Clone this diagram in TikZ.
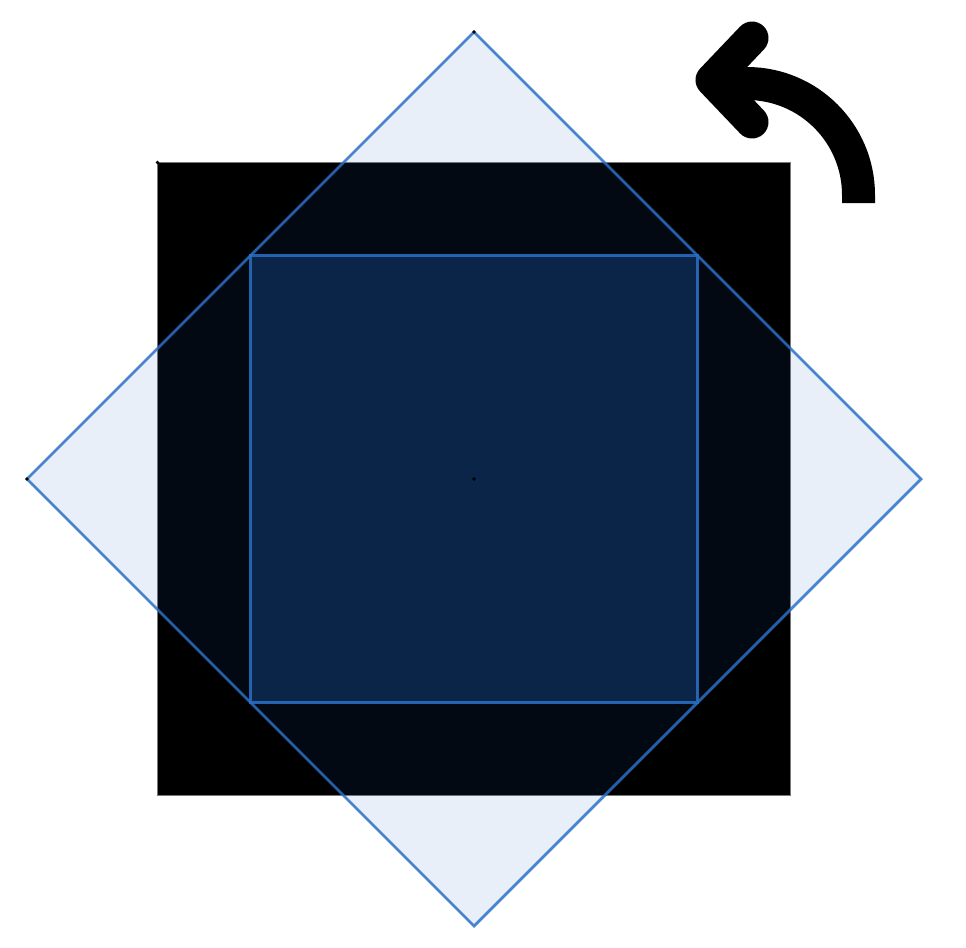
\documentclass[tikz,border=0pt]{standalone}
\usepackage{xcolor}
\usepackage{tikz}
\usetikzlibrary{calc}
\definecolor{rotblue}{RGB}{42,113,200}
\definecolor{rotfill}{RGB}{38,98,190}
\definecolor{innerblue}{RGB}{10,37,72}
\definecolor{edgegray}{RGB}{120,120,120}

\begin{document}
\begin{tikzpicture}[x=0.02cm, y=-0.02cm,
    vertexdot/.style={fill=black, inner sep=0pt, minimum size=2.2pt, circle},
    blueedge/.style={draw=rotblue, draw opacity=0.85, line width=1.6pt}
]
\useasboundingbox (0,0) rectangle (966,947);

\coordinate (c) at (474,479);

% fixed square
\draw[edgegray, fill=black, line width=0.8pt]
    ($(c)+(-316.5,-316.5)$) coordinate (sq1) rectangle ($(c)+(316.5,316.5)$) coordinate (sq3);

% rotated square
\draw[blueedge, fill=rotfill, fill opacity=0.1]
    ($(c)+(0,-447)$) coordinate (dtop) -- ($(c)+(447,0)$) coordinate (dright)
    -- ($(c)+(0,447)$) coordinate (dbottom) -- ($(c)+(-447,0)$) coordinate (dleft) -- cycle;

% overlap square
\draw[blueedge, fill=innerblue]
    ($(c)+(-223.5,-223.5)$) rectangle ($(c)+(223.5,223.5)$);

% vertex marks
\foreach \p in {c, dtop, dleft, sq1}
    \node[vertexdot] at (\p) {};

% rotation arrow
\coordinate (shaftend) at (858.5,203);
\coordinate (tip) at (712,80);
\draw[black, line width=0.66cm, line join=round]
    (shaftend) -- (858.5,195) arc[start angle=0, end angle=-90, radius=111.5] -- (tip);
\draw[black, line width=0.66cm, line cap=round, line join=round]
    (752,38) -- (tip) -- (752,122);
\end{tikzpicture}
\end{document}
